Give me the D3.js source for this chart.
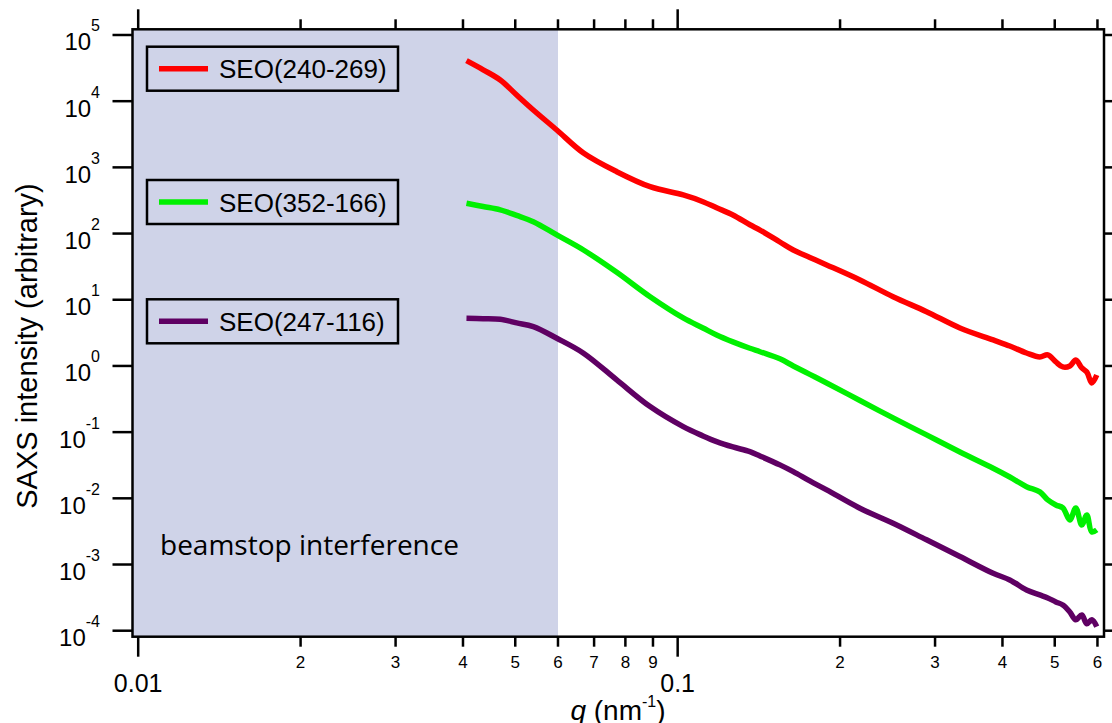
<!DOCTYPE html>
<html>
<head>
<meta charset="utf-8">
<script src="https://cdn.jsdelivr.net/npm/d3@7"></script>
<style>
  body { margin: 0; background: #fff; }
  svg { display: block; font-family: "Liberation Sans", Arial, sans-serif; }
</style>
</head>
<body>
<svg width="1112" height="723"></svg>
<script>
// q values (nm^-1), shared by the three scattering curves
var qValues = [0.0406, 0.0436, 0.0469, 0.0503, 0.0540, 0.0597, 0.0669, 0.0771, 0.0889, 0.1024,
               0.1114, 0.1181, 0.1266, 0.1361, 0.1421, 0.1547, 0.1638, 0.1758, 0.1889, 0.2177,
               0.2508, 0.2893, 0.3336, 0.3844, 0.4127, 0.4433, 0.4691, 0.4854, 0.5024, 0.5176,
               0.5333, 0.5470, 0.5612, 0.5733, 0.5857, 0.5982];

// SAXS intensity (arbitrary units) for each sample
var seo240 = [40900, 29800, 20900, 12400, 7360, 3670, 1650, 861, 511, 383,
              303, 245, 191, 136, 113, 74.6, 56.5, 43.5, 33.6, 19.9,
              11.1, 6.61, 3.75, 2.47, 2.00, 1.57, 1.37, 1.47, 1.15, 0.966,
              1.0, 1.23, 0.933, 0.811, 0.553, 0.731];
var seo352 = [287, 256, 228, 188, 151, 95.3, 56.5, 26, 11.1, 5.31,
              3.75, 2.94, 2.31, 1.85, 1.64, 1.28, 1.0, 0.745, 0.553, 0.301,
              0.164, 0.0908, 0.0502, 0.0285, 0.0210, 0.0150, 0.0125, 0.00946, 0.00794, 0.00716,
              0.00472, 0.00716, 0.00396, 0.00561, 0.00310, 0.00333];
var seo247 = [5.25, 5.18, 5.07, 4.47, 3.93, 2.62, 1.56, 0.615, 0.243, 0.121,
              0.0877, 0.0719, 0.0597, 0.0507, 0.0436, 0.0320, 0.0253, 0.0183, 0.0134, 0.00708,
              0.00421, 0.00236, 0.00132, 0.000737, 0.000585, 0.000413, 0.000347, 0.000313, 0.000272, 0.000245,
              0.000192, 0.000146, 0.000173, 0.000127, 0.000146, 0.000115];

var seriesNames  = ["SEO(240-269)", "SEO(352-166)", "SEO(247-116)"];
var seriesValues = [seo240, seo352, seo247];
var seriesColors = ["#ff0000", "#00f000", "#5f0063"];

// axis ticks
var xMajorTicks  = [0.01, 0.1];
var xMajorLabels = ["0.01", "0.1"];
var xMinorTicks  = [0.02, 0.03, 0.04, 0.05, 0.06, 0.07, 0.08, 0.09, 0.2, 0.3, 0.4, 0.5, 0.6];
var xMinorLabels = ["2", "3", "4", "5", "6", "7", "8", "9", "2", "3", "4", "5", "6"];
var yExponents   = [-4, -3, -2, -1, 0, 1, 2, 3, 4, 5];

// shaded beamstop region upper limit
var beamstopEnd = 0.06;

var svg = d3.select("svg");
// plot frame edges (note: "top" is a reserved window global, so prefix them)
var plotLeft = 132.5, plotRight = 1104, plotTop = 29.3, plotBottom = 636.7;
var shade = "#cfd3e8";

var x = d3.scaleLog().domain([0.00976, 0.617]).range([plotLeft, plotRight]);
var y = d3.scaleLog().domain([Math.pow(10, -4.0906), Math.pow(10, 5.086)]).range([plotBottom, plotTop]);

svg.append("rect").attr("width", 1112).attr("height", 723).attr("fill", "#fff");

// beamstop shading
svg.append("rect")
   .attr("x", plotLeft).attr("y", plotTop)
   .attr("width", x(beamstopEnd) - plotLeft).attr("height", plotBottom - plotTop)
   .attr("fill", shade);

svg.append("text")
   .attr("x", 160).attr("y", 555)
   .style("font-family", "'Open Sans', sans-serif")
   .style("font-size", "28px")
   .text("beamstop interference");

// curves
svg.append("clipPath").attr("id", "plotclip")
   .append("rect").attr("x", plotLeft).attr("y", plotTop)
   .attr("width", plotRight - plotLeft).attr("height", plotBottom - plotTop);

var line = d3.line()
    .x(function(d) { return x(d[0]); })
    .y(function(d) { return y(d[1]); })
    .curve(d3.curveCatmullRom.alpha(0.5));

seriesValues.forEach(function(vals, i) {
  svg.append("path")
     .attr("clip-path", "url(#plotclip)")
     .attr("d", line(qValues.map(function(q, j) { return [q, vals[j]]; })))
     .attr("fill", "none")
     .attr("stroke", seriesColors[i])
     .attr("stroke-width", 5.5)
     .attr("stroke-linejoin", "round")
     .attr("stroke-linecap", "butt");
});

// legend boxes
var legendTops = [46.7, 180, 299.3];
seriesNames.forEach(function(name, i) {
  var g = svg.append("g").attr("transform", "translate(147," + legendTops[i] + ")");
  g.append("rect").attr("width", 251).attr("height", 44)
   .attr("fill", shade).attr("stroke", "#000").attr("stroke-width", 2.5);
  g.append("line").attr("x1", 12).attr("x2", 61).attr("y1", 22).attr("y2", 22)
   .attr("stroke", seriesColors[i]).attr("stroke-width", 5.5);
  g.append("text").attr("x", 72).attr("y", 31.5)
   .style("font-size", "26px").text(name);
});

// frame
svg.append("rect")
   .attr("x", plotLeft).attr("y", plotTop)
   .attr("width", plotRight - plotLeft).attr("height", plotBottom - plotTop)
   .attr("fill", "none").attr("stroke", "#000").attr("stroke-width", 2.5);

// x ticks, bottom and top
function xTick(v, len) {
  svg.append("line").attr("x1", x(v)).attr("x2", x(v)).attr("y1", plotBottom).attr("y2", plotBottom + len)
     .attr("stroke", "#000").attr("stroke-width", 2.5);
  svg.append("line").attr("x1", x(v)).attr("x2", x(v)).attr("y1", plotTop).attr("y2", plotTop - len)
     .attr("stroke", "#000").attr("stroke-width", 2.5);
}
xMajorTicks.forEach(function(v) { xTick(v, 20); });
xMinorTicks.forEach(function(v) { xTick(v, 10); });

svg.selectAll(".xminor").data(xMinorTicks).enter().append("text")
   .attr("x", function(d) { return x(d); }).attr("y", 667.5)
   .attr("text-anchor", "middle").style("font-size", "17px")
   .text(function(d, i) { return xMinorLabels[i]; });

svg.selectAll(".xmajor").data(xMajorTicks).enter().append("text")
   .attr("x", function(d) { return x(d); }).attr("y", 691.5)
   .attr("text-anchor", "middle").style("font-size", "25px")
   .text(function(d, i) { return xMajorLabels[i]; });

// y ticks, left and right
yExponents.forEach(function(e) {
  var yy = y(Math.pow(10, e));
  svg.append("line").attr("x1", plotLeft - 20).attr("x2", plotLeft).attr("y1", yy).attr("y2", yy)
     .attr("stroke", "#000").attr("stroke-width", 2.5);
  svg.append("line").attr("x1", plotRight).attr("x2", plotRight + 20).attr("y1", yy).attr("y2", yy)
     .attr("stroke", "#000").attr("stroke-width", 2.5);
  var t = svg.append("text").attr("x", 100).attr("y", yy + 15.5).attr("text-anchor", "end");
  t.append("tspan").style("font-size", "24px").text("10");
  t.append("tspan").attr("dy", -19).style("font-size", "16px").text(String(e));
});

// axis titles
svg.append("text")
   .attr("transform", "translate(37,346) rotate(-90)")
   .attr("text-anchor", "middle").style("font-size", "29px")
   .text("SAXS intensity (arbitrary)");

var xt = svg.append("text").attr("x", 618).attr("y", 720)
   .attr("text-anchor", "middle").style("font-size", "28px");
xt.append("tspan").style("font-style", "italic").text("q");
xt.append("tspan").text(" (nm");
xt.append("tspan").attr("dy", -13).style("font-size", "16px").text("-1");
xt.append("tspan").attr("dy", 13).text(")");
</script>
</body>
</html>
